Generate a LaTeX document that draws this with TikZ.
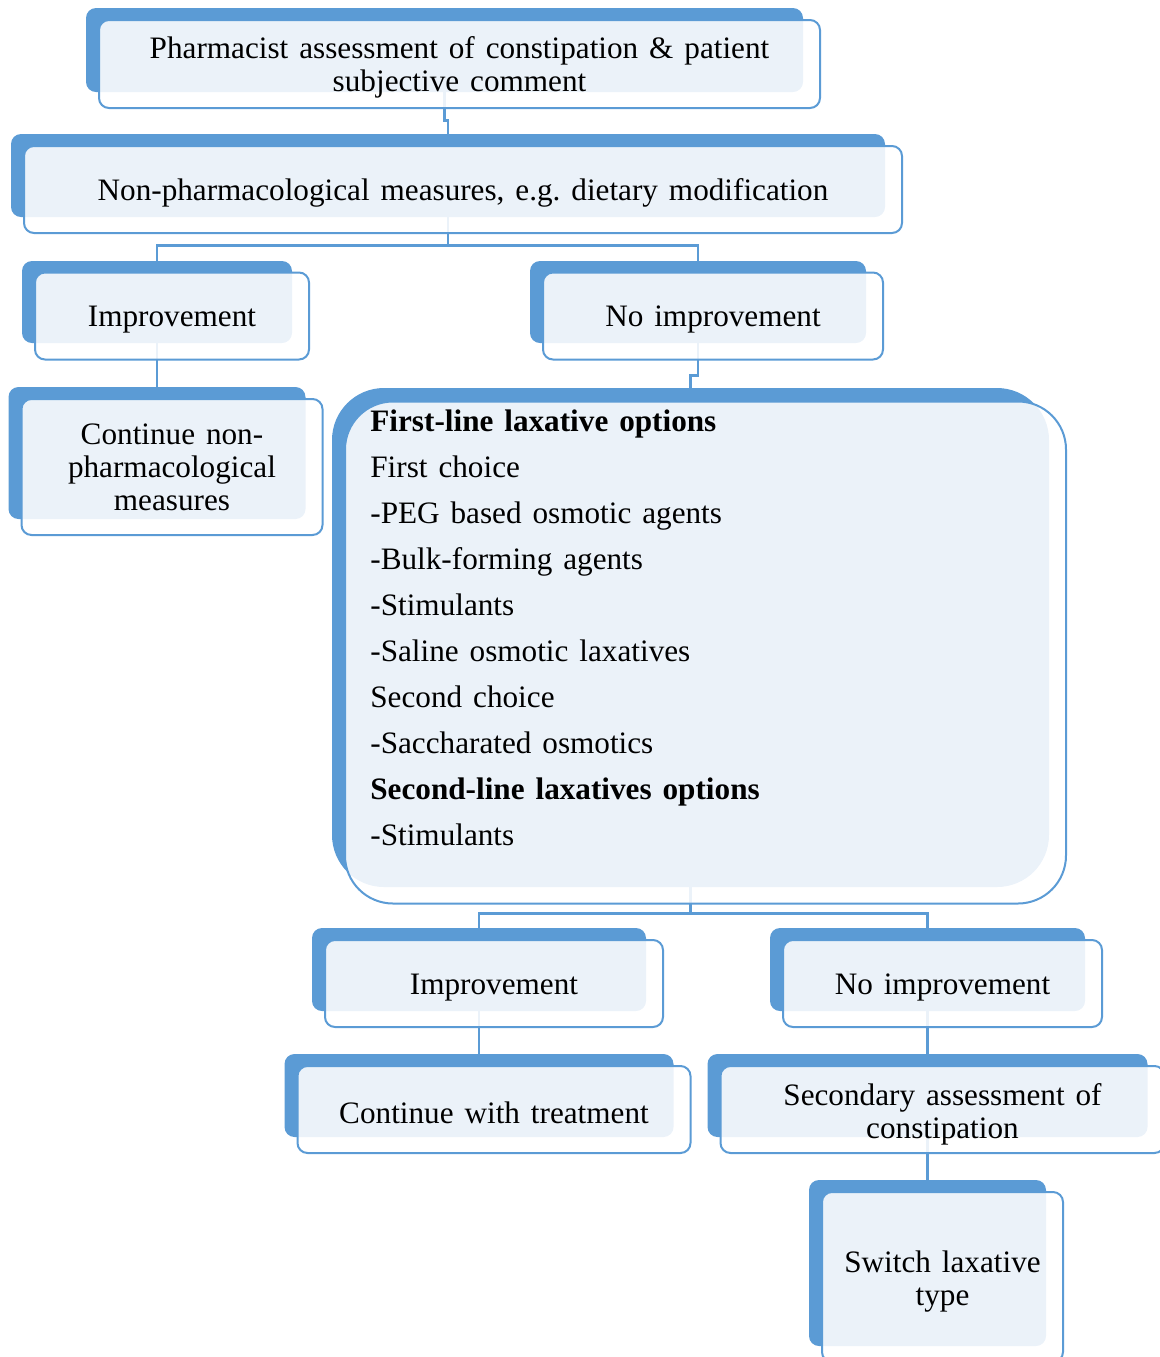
\documentclass[tikz,border=0pt]{standalone}
\usepackage{fontspec}
\setmainfont{Liberation Serif}[WordSpace=1.4]
\usetikzlibrary{positioning}
\definecolor{smblue}{RGB}{91,155,213}

\begin{document}
\begin{tikzpicture}[x=0.5pt, y=-0.5pt, auto]
    \tikzset{
    backbox/.style={shape=rectangle, rounded corners=5pt, fill=smblue, inner sep=0pt},
    frontbox/.style={draw=smblue, shape=rectangle, rounded corners=5pt, line width=1pt, fill=white, fill opacity=0.88, text opacity=1, align=center, inner sep=0pt, font=\fontsize{15.6}{16.5}\selectfont},
    textdrop/.style={execute at begin node={\rule{0pt}{#1}}},
    bigback/.style={backbox, rounded corners=26pt},
    bigfront/.style={frontbox, rounded corners=24pt},
    line/.style={draw=smblue, line width=1.1pt}
}
\useasboundingbox (0,0) rectangle (1160,1357);
\clip (0,0) rectangle (1160,1357);

% back shapes
\node [backbox, minimum width=358.5pt, minimum height=42pt] (assess) at (444.5,50) {};
\node [backbox, minimum width=437pt, minimum height=41.5pt, below of=assess, node distance=62.75pt, xshift=1.75pt] (nonpharm) {};
\node [backbox, minimum width=135pt, minimum height=41pt, below of=nonpharm, node distance=63.25pt, xshift=-145.5pt] (improve1) {};
\node [backbox, minimum width=168pt, minimum height=41pt, right of=improve1, node distance=270.5pt] (noimprove1) {};
\node [backbox, minimum width=148.5pt, minimum height=66pt, below of=improve1, node distance=75.5pt] (contnonpharm) {};
\node [bigback, minimum width=358.5pt, minimum height=249.5pt, below of=noimprove1, node distance=167.75pt, xshift=-3.75pt] (laxopts) {};
\node [backbox, minimum width=167pt, minimum height=41.5pt, below of=laxopts, node distance=166pt, xshift=-105.75pt] (improve2) {};
\node [backbox, minimum width=157.5pt, minimum height=41.5pt, right of=improve2, node distance=224.25pt] (noimprove2) {};
\node [backbox, minimum width=194.5pt, minimum height=41.5pt, below of=improve2, node distance=63pt] (contreat) {};
\node [backbox, minimum width=220pt, minimum height=41.5pt, below of=noimprove2, node distance=63pt] (secondary) {};
\node [backbox, minimum width=118.5pt, minimum height=83pt, below of=secondary, node distance=83.75pt] (switchlax) {};

% connectors
\path [line] (assess.south) -- ++(0,-14pt) -| (nonpharm.north);
\path [line] (nonpharm.south) -- ++(0,-14pt) -| (improve1.north);
\path [line] (nonpharm.south) -- ++(0,-14pt) -| (noimprove1.north);
\path [line] (improve1.south) -- (contnonpharm.north);
\path [line] (noimprove1.south) -- ++(0,-16pt) -| (laxopts.north);
\path [line] (laxopts.south) -- ++(0,-13pt) -| (improve2.north);
\path [line] (laxopts.south) -- ++(0,-13pt) -| (noimprove2.north);
\path [line] (improve2.south) -- (contreat.north);
\path [line] (noimprove2.south) -- (secondary.north);
\path [line] (secondary.south) -- (switchlax.north);

% front shapes with text
\node [frontbox, minimum width=360.5pt, minimum height=44pt] (assessF) at ([shift={(7.5pt,-7pt)}]assess.center) {\rule{0pt}{14pt}Pharmacist assessment of constipation \& patient\\subjective comment};
\node [frontbox, textdrop=14.3pt, minimum width=439pt, minimum height=43.5pt] (nonpharmF) at ([shift={(7.5pt,-7pt)}]nonpharm.center) {Non-pharmacological measures, e.g.\ dietary modification};
\node [frontbox, textdrop=14.3pt, minimum width=137pt, minimum height=43.5pt] (improve1F) at ([shift={(7.5pt,-7pt)}]improve1.center) {Improvement};
\node [frontbox, textdrop=14.3pt, minimum width=170pt, minimum height=43.5pt] (noimprove1F) at ([shift={(7.5pt,-7pt)}]noimprove1.center) {No improvement};
\node [frontbox, minimum width=150.5pt, minimum height=68pt] (contnonpharmF) at ([shift={(7.5pt,-7pt)}]contnonpharm.center) {Continue non-\\pharmacological\\measures};
\node [bigfront, minimum width=360.5pt, minimum height=251pt] (laxoptsF) at ([shift={(7.5pt,-7.5pt)}]laxopts.center) {};
\node [anchor=north west, align=left, inner sep=0pt, font=\fontsize{15.6}{23}\selectfont] (laxtext) at ([shift={(13pt,-4.5pt)}]laxoptsF.north west) {\textbf{First-line laxative options}\\First choice\\-PEG based osmotic agents\\-Bulk-forming agents\\-Stimulants\\-Saline osmotic laxatives\\Second choice\\-Saccharated osmotics\\\textbf{Second-line laxatives options}\\-Stimulants};
\node [frontbox, textdrop=14.3pt, minimum width=169pt, minimum height=43.5pt] (improve2F) at ([shift={(7.5pt,-7pt)}]improve2.center) {Improvement};
\node [frontbox, textdrop=14.3pt, minimum width=159.5pt, minimum height=43.5pt] (noimprove2F) at ([shift={(7.5pt,-7pt)}]noimprove2.center) {No improvement};
\node [frontbox, textdrop=14.3pt, minimum width=196.5pt, minimum height=43.5pt] (contreatF) at ([shift={(7.5pt,-7pt)}]contreat.center) {Continue with treatment};
\node [frontbox, minimum width=222pt, minimum height=43.5pt] (secondaryF) at ([shift={(7.5pt,-7pt)}]secondary.center) {\rule{0pt}{15.5pt}Secondary assessment of\\constipation};
\node [frontbox, minimum width=120.5pt, minimum height=85pt] (switchlaxF) at ([shift={(7.5pt,-7pt)}]switchlax.center) {\rule{0pt}{15.5pt}Switch laxative\\type};

\end{tikzpicture}
\end{document}
